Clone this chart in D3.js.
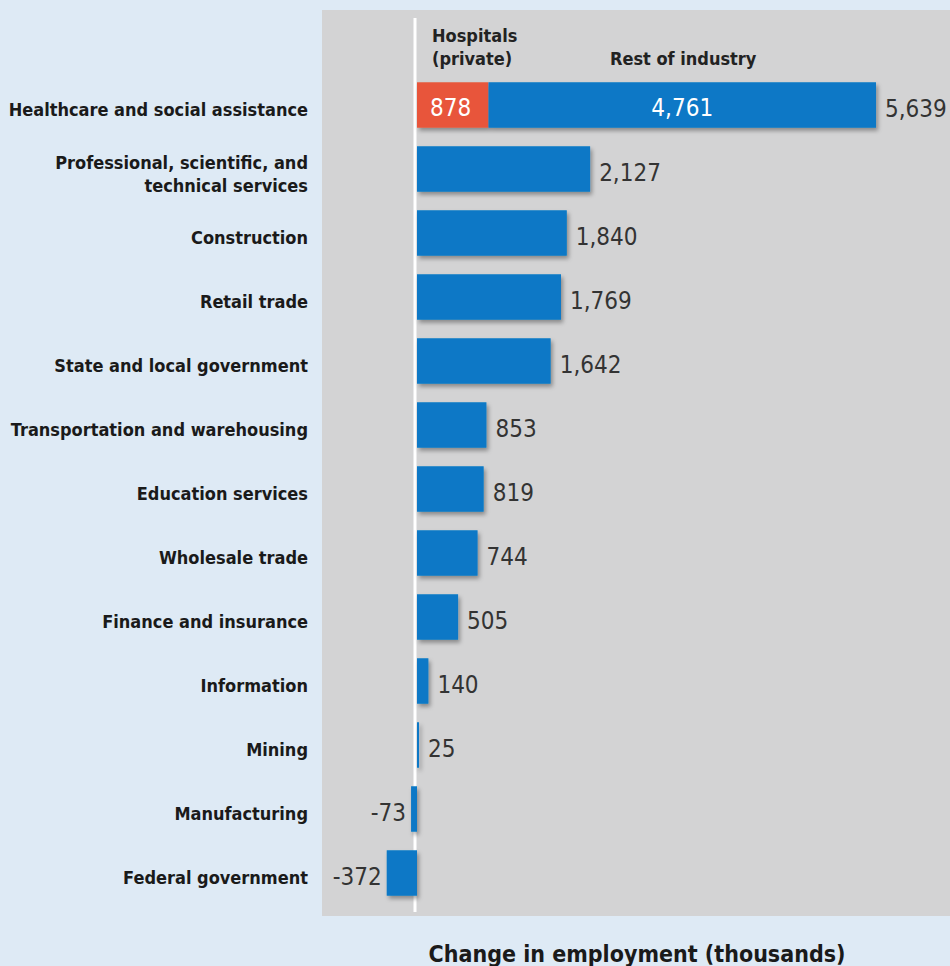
<!DOCTYPE html>
<html>
<head>
<meta charset="utf-8">
<script src="https://cdn.jsdelivr.net/npm/d3@7"></script>
<style>
  html, body { margin: 0; padding: 0; background: #deeaf5; }
  svg { display: block; }
</style>
</head>
<body>
<svg id="chart" width="950" height="966"></svg>
<script>
// Employment change by industry (thousands)
const categories = [
  "Healthcare and social assistance",
  "Professional, scientific, and\ntechnical services",
  "Construction",
  "Retail trade",
  "State and local government",
  "Transportation and warehousing",
  "Education services",
  "Wholesale trade",
  "Finance and insurance",
  "Information",
  "Mining",
  "Manufacturing",
  "Federal government"
];
const totals = [5639, 2127, 1840, 1769, 1642, 853, 819, 744, 505, 140, 25, -73, -372];
// Healthcare split into its two parts
const hospitalsPrivate = 878;
const restOfIndustry = 4761;
const seriesNames = ["Hospitals\n(private)", "Rest of industry"];
const axisTitle = "Change in employment (thousands)";

const fmt = d3.formatLocale({ decimal: ".", thousands: ",", grouping: [3], currency: ["", ""], minus: "-" }).format(",");
const svg = d3.select("#chart");
const W = 950, H = 966;

const labelFont = "'DejaVu Sans Condensed', 'Liberation Sans Narrow', sans-serif";
const valueFont = "'DejaVu Sans Condensed', 'Liberation Sans Narrow', sans-serif";
const blue = "#0878c6", red = "#e8553a";

const defs = svg.append("defs");
const f = defs.append("filter").attr("id", "shadow")
  .attr("x", "-20%").attr("y", "-20%").attr("width", "140%").attr("height", "150%");
f.append("feDropShadow").attr("dx", 2).attr("dy", 3).attr("stdDeviation", 2)
  .attr("flood-color", "#000").attr("flood-opacity", 0.35);

// Grey plotting panel
svg.append("rect").attr("x", 322).attr("y", 10).attr("width", W - 322).attr("height", 906)
  .attr("fill", "#d3d3d4");

const x = d3.scaleLinear().domain([-1000, 6000]).range([335.6, 905.4]);
const y = d3.scalePoint().domain(categories).range([105, 873]);
const barH = y.step() * 0.71;

// Zero line
svg.append("line").attr("x1", x(0) - 2).attr("x2", x(0) - 2).attr("y1", 18).attr("y2", 912)
  .attr("stroke", "#fff").attr("stroke-width", 3);

const rows = categories.map((c, i) => ({ cat: c, v: totals[i] }));

// Bars (healthcare drawn as two segments)
const barG = svg.append("g").attr("filter", "url(#shadow)");
rows.forEach((d, i) => {
  if (i === 0) {
    barG.append("rect").attr("x", x(0)).attr("y", y(d.cat) - barH / 2)
      .attr("width", x(hospitalsPrivate) - x(0)).attr("height", barH).attr("fill", red);
    barG.append("rect").attr("x", x(hospitalsPrivate)).attr("y", y(d.cat) - barH / 2)
      .attr("width", x(hospitalsPrivate + restOfIndustry) - x(hospitalsPrivate)).attr("height", barH).attr("fill", blue);
  } else {
    barG.append("rect").attr("x", x(Math.min(0, d.v))).attr("y", y(d.cat) - barH / 2)
      .attr("width", Math.abs(x(d.v) - x(0))).attr("height", barH).attr("fill", blue);
  }
});

// Value labels
rows.forEach(d => {
  const neg = d.v < 0;
  svg.append("text")
    .attr("x", neg ? x(d.v) - 5 : x(d.v) + 9)
    .attr("y", y(d.cat) + 3)
    .attr("dy", "0.36em")
    .attr("text-anchor", neg ? "end" : "start")
    .attr("font-family", valueFont).attr("font-size", 24)
    .attr("fill", "#333").text(fmt(d.v));
});

// Segment labels inside the healthcare bar
const y0 = y(categories[0]) + 2;
svg.append("text").attr("x", x(0) + 13).attr("y", y0).attr("dy", "0.36em")
  .attr("font-family", valueFont).attr("font-size", 24).attr("fill", "#fff").text(fmt(hospitalsPrivate));
svg.append("text").attr("x", (x(hospitalsPrivate) + x(hospitalsPrivate + restOfIndustry)) / 2)
  .attr("y", y0).attr("dy", "0.36em").attr("text-anchor", "middle")
  .attr("font-family", valueFont).attr("font-size", 24).attr("fill", "#fff").text(fmt(restOfIndustry));

// Series headers
const hdr = svg.append("text").attr("x", x(0) + 15).attr("y", 42)
  .attr("font-family", labelFont).attr("font-size", 18).attr("font-weight", "bold").attr("fill", "#222");
seriesNames[0].split("\n").forEach((s, k) => {
  hdr.append("tspan").attr("x", x(0) + 15).attr("dy", k ? 23 : 0).text(s);
});
svg.append("text").attr("x", 610).attr("y", 65)
  .attr("font-family", labelFont).attr("font-size", 18).attr("font-weight", "bold").attr("fill", "#222")
  .text(seriesNames[1]);

// Category labels
rows.forEach(d => {
  const lines = d.cat.split("\n");
  const t = svg.append("text").attr("text-anchor", "end")
    .attr("font-family", labelFont).attr("font-size", 18).attr("font-weight", "bold").attr("fill", "#1a1a1a");
  const startY = y(d.cat) + 5 - (lines.length - 1) * 11.5;
  lines.forEach((s, k) => {
    t.append("tspan").attr("x", 308).attr("y", startY + k * 23).attr("dy", "0.36em").text(s);
  });
});

// Axis title
svg.append("text").attr("x", 637).attr("y", 962).attr("text-anchor", "middle")
  .attr("font-family", labelFont).attr("font-size", 23).attr("font-weight", "bold").attr("fill", "#1a1a1a")
  .text(axisTitle);
</script>
</body>
</html>
